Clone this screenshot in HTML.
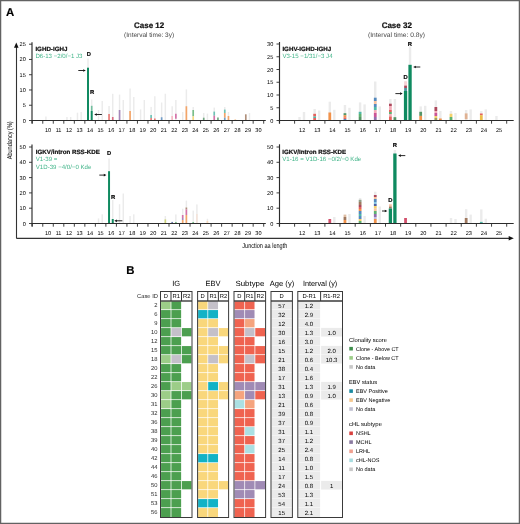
<!DOCTYPE html><html><head><meta charset="utf-8"><style>html,body{margin:0;padding:0;background:#fff;}svg{display:block;will-change:transform;}text{font-family:"Liberation Sans",sans-serif;text-rendering:geometricPrecision;}</style></head><body>
<svg width="520" height="524" viewBox="0 0 520 524">
<rect x="0.00" y="0.00" width="520.00" height="524.00" fill="#fff" />
<text x="5.90" y="15.80" font-size="11.4" font-weight="bold" stroke="#000" stroke-width="0.15" fill="#000">A</text>
<text x="149.10" y="28.10" font-size="8" font-weight="bold" stroke="#111" stroke-width="0.22" text-anchor="middle" fill="#111">Case 12</text>
<text x="149.10" y="36.60" font-size="6.5" text-anchor="middle" fill="#444" textLength="50" lengthAdjust="spacingAndGlyphs">(Interval time: 3y)</text>
<text x="396.75" y="28.10" font-size="8" font-weight="bold" stroke="#111" stroke-width="0.22" text-anchor="middle" fill="#111">Case 32</text>
<text x="396.50" y="36.70" font-size="6.5" text-anchor="middle" fill="#444" textLength="57" lengthAdjust="spacingAndGlyphs">(Interval time: 0.8y)</text>
<rect x="45.20" y="116.50" width="1.44" height="4.00" fill="#ebebeb" />
<rect x="66.24" y="117.00" width="1.44" height="3.50" fill="#ebebeb" />
<rect x="69.94" y="117.00" width="1.44" height="3.50" fill="#ebebeb" />
<rect x="76.76" y="112.70" width="1.44" height="7.80" fill="#ebebeb" />
<rect x="80.46" y="112.00" width="1.44" height="8.50" fill="#ebebeb" />
<rect x="87.28" y="58.50" width="1.44" height="62.00" fill="#ebebeb" />
<rect x="87.01" y="67.70" width="1.98" height="52.90" fill="#0f8a60" />
<rect x="90.98" y="99.50" width="1.44" height="21.00" fill="#ebebeb" />
<rect x="90.87" y="105.80" width="1.66" height="5.20" fill="#72be9e" />
<rect x="90.71" y="111.00" width="1.98" height="9.60" fill="#0f8a60" />
<rect x="97.80" y="110.00" width="1.44" height="10.50" fill="#ebebeb" />
<rect x="101.50" y="101.00" width="1.44" height="19.50" fill="#ebebeb" />
<rect x="108.32" y="106.00" width="1.44" height="14.50" fill="#ebebeb" />
<rect x="108.21" y="114.00" width="1.66" height="6.60" fill="#ea7d79" />
<rect x="112.02" y="93.80" width="1.44" height="26.70" fill="#ebebeb" />
<rect x="111.91" y="117.00" width="1.66" height="3.60" fill="#da6d84" />
<rect x="118.84" y="94.60" width="1.44" height="25.90" fill="#ebebeb" />
<rect x="118.73" y="110.00" width="1.66" height="10.60" fill="#a587ba" />
<rect x="122.54" y="100.00" width="1.44" height="20.50" fill="#ebebeb" />
<rect x="129.36" y="88.50" width="1.44" height="32.00" fill="#ebebeb" />
<rect x="129.25" y="111.00" width="1.66" height="9.60" fill="#f3a569" />
<rect x="133.06" y="97.00" width="1.44" height="23.50" fill="#ebebeb" />
<rect x="139.88" y="109.40" width="1.44" height="11.10" fill="#ebebeb" />
<rect x="143.58" y="100.00" width="1.44" height="20.50" fill="#ebebeb" />
<rect x="150.40" y="106.90" width="1.44" height="13.60" fill="#ebebeb" />
<rect x="150.29" y="115.00" width="1.66" height="3.00" fill="#6dc4b6" />
<rect x="150.29" y="118.00" width="1.66" height="2.60" fill="#ea7d79" />
<rect x="154.10" y="96.25" width="1.44" height="24.25" fill="#ebebeb" />
<rect x="153.99" y="118.50" width="1.66" height="2.10" fill="#ea7d79" />
<rect x="160.92" y="102.50" width="1.44" height="18.00" fill="#ebebeb" />
<rect x="160.81" y="117.25" width="1.66" height="3.35" fill="#719dc8" />
<rect x="164.62" y="93.75" width="1.44" height="26.75" fill="#ebebeb" />
<rect x="171.44" y="106.25" width="1.44" height="14.25" fill="#ebebeb" />
<rect x="171.33" y="116.00" width="1.66" height="4.60" fill="#f6bac4" />
<rect x="175.14" y="100.00" width="1.44" height="20.50" fill="#ebebeb" />
<rect x="175.03" y="113.75" width="1.66" height="5.00" fill="#d472a9" />
<rect x="181.96" y="112.00" width="1.44" height="8.50" fill="#ebebeb" />
<rect x="185.66" y="89.40" width="1.44" height="31.10" fill="#ebebeb" />
<rect x="185.55" y="106.25" width="1.66" height="14.35" fill="#f3a569" />
<rect x="192.48" y="107.00" width="1.44" height="13.50" fill="#ebebeb" />
<rect x="192.37" y="110.00" width="1.66" height="6.25" fill="#79be88" />
<rect x="192.37" y="116.25" width="1.66" height="4.35" fill="#f6da84" />
<rect x="203.00" y="113.00" width="1.44" height="7.50" fill="#ebebeb" />
<rect x="202.89" y="117.70" width="1.66" height="2.90" fill="#72a781" />
<rect x="206.70" y="113.60" width="1.44" height="6.90" fill="#ebebeb" />
<rect x="213.52" y="107.60" width="1.44" height="12.90" fill="#ebebeb" />
<rect x="213.41" y="111.60" width="1.66" height="4.10" fill="#6dc4b6" />
<rect x="213.41" y="115.70" width="1.66" height="4.90" fill="#d472a9" />
<rect x="217.11" y="117.50" width="1.66" height="3.10" fill="#72a781" />
<rect x="224.04" y="107.00" width="1.44" height="13.50" fill="#ebebeb" />
<rect x="223.93" y="109.60" width="1.66" height="3.40" fill="#6dc4b6" />
<rect x="223.93" y="113.00" width="1.66" height="4.70" fill="#f3a569" />
<rect x="223.93" y="117.70" width="1.66" height="2.90" fill="#719dc8" />
<rect x="227.74" y="112.00" width="1.44" height="8.50" fill="#ebebeb" />
<rect x="227.63" y="116.00" width="1.66" height="4.60" fill="#f3a569" />
<rect x="234.45" y="119.00" width="1.66" height="1.60" fill="#fadaba" />
<rect x="244.97" y="114.30" width="1.66" height="6.30" fill="#af8f7a" />
<rect x="248.78" y="113.00" width="1.44" height="7.50" fill="#ebebeb" />
<line x1="32.00" y1="42.30" x2="32.00" y2="123.50" stroke="#2b2b2b" stroke-width="1.15"/>
<line x1="29.00" y1="120.50" x2="32.00" y2="120.50" stroke="#2b2b2b" stroke-width="0.9"/>
<text x="25.80" y="122.50" font-size="5.6" text-anchor="end">0</text>
<line x1="29.00" y1="105.24" x2="32.00" y2="105.24" stroke="#2b2b2b" stroke-width="0.9"/>
<text x="25.80" y="107.24" font-size="5.6" text-anchor="end">5</text>
<line x1="29.00" y1="89.98" x2="32.00" y2="89.98" stroke="#2b2b2b" stroke-width="0.9"/>
<text x="25.80" y="91.98" font-size="5.6" text-anchor="end">10</text>
<line x1="29.00" y1="74.72" x2="32.00" y2="74.72" stroke="#2b2b2b" stroke-width="0.9"/>
<text x="25.80" y="76.72" font-size="5.6" text-anchor="end">15</text>
<line x1="29.00" y1="59.46" x2="32.00" y2="59.46" stroke="#2b2b2b" stroke-width="0.9"/>
<text x="25.80" y="61.46" font-size="5.6" text-anchor="end">20</text>
<line x1="29.00" y1="44.20" x2="32.00" y2="44.20" stroke="#2b2b2b" stroke-width="0.9"/>
<text x="25.80" y="46.20" font-size="5.6" text-anchor="end">25</text>
<line x1="32.00" y1="120.50" x2="265.80" y2="120.50" stroke="#2b2b2b" stroke-width="1"/>
<line x1="32.25" y1="120.50" x2="32.25" y2="123.70" stroke="#2b2b2b" stroke-width="0.9"/>
<line x1="42.77" y1="120.50" x2="42.77" y2="123.70" stroke="#2b2b2b" stroke-width="0.9"/>
<line x1="53.29" y1="120.50" x2="53.29" y2="123.70" stroke="#2b2b2b" stroke-width="0.9"/>
<line x1="63.81" y1="120.50" x2="63.81" y2="123.70" stroke="#2b2b2b" stroke-width="0.9"/>
<line x1="74.33" y1="120.50" x2="74.33" y2="123.70" stroke="#2b2b2b" stroke-width="0.9"/>
<line x1="84.85" y1="120.50" x2="84.85" y2="123.70" stroke="#2b2b2b" stroke-width="0.9"/>
<line x1="95.37" y1="120.50" x2="95.37" y2="123.70" stroke="#2b2b2b" stroke-width="0.9"/>
<line x1="105.89" y1="120.50" x2="105.89" y2="123.70" stroke="#2b2b2b" stroke-width="0.9"/>
<line x1="116.41" y1="120.50" x2="116.41" y2="123.70" stroke="#2b2b2b" stroke-width="0.9"/>
<line x1="126.93" y1="120.50" x2="126.93" y2="123.70" stroke="#2b2b2b" stroke-width="0.9"/>
<line x1="137.45" y1="120.50" x2="137.45" y2="123.70" stroke="#2b2b2b" stroke-width="0.9"/>
<line x1="147.97" y1="120.50" x2="147.97" y2="123.70" stroke="#2b2b2b" stroke-width="0.9"/>
<line x1="158.49" y1="120.50" x2="158.49" y2="123.70" stroke="#2b2b2b" stroke-width="0.9"/>
<line x1="169.01" y1="120.50" x2="169.01" y2="123.70" stroke="#2b2b2b" stroke-width="0.9"/>
<line x1="179.53" y1="120.50" x2="179.53" y2="123.70" stroke="#2b2b2b" stroke-width="0.9"/>
<line x1="190.05" y1="120.50" x2="190.05" y2="123.70" stroke="#2b2b2b" stroke-width="0.9"/>
<line x1="200.57" y1="120.50" x2="200.57" y2="123.70" stroke="#2b2b2b" stroke-width="0.9"/>
<line x1="211.09" y1="120.50" x2="211.09" y2="123.70" stroke="#2b2b2b" stroke-width="0.9"/>
<line x1="221.61" y1="120.50" x2="221.61" y2="123.70" stroke="#2b2b2b" stroke-width="0.9"/>
<line x1="232.13" y1="120.50" x2="232.13" y2="123.70" stroke="#2b2b2b" stroke-width="0.9"/>
<line x1="242.65" y1="120.50" x2="242.65" y2="123.70" stroke="#2b2b2b" stroke-width="0.9"/>
<line x1="253.17" y1="120.50" x2="253.17" y2="123.70" stroke="#2b2b2b" stroke-width="0.9"/>
<line x1="263.69" y1="120.50" x2="263.69" y2="123.70" stroke="#2b2b2b" stroke-width="0.9"/>
<text x="48.03" y="131.80" font-size="5.6" text-anchor="middle">10</text>
<text x="58.55" y="131.80" font-size="5.6" text-anchor="middle">11</text>
<text x="69.07" y="131.80" font-size="5.6" text-anchor="middle">12</text>
<text x="79.59" y="131.80" font-size="5.6" text-anchor="middle">13</text>
<text x="90.11" y="131.80" font-size="5.6" text-anchor="middle">14</text>
<text x="100.63" y="131.80" font-size="5.6" text-anchor="middle">15</text>
<text x="111.15" y="131.80" font-size="5.6" text-anchor="middle">16</text>
<text x="121.67" y="131.80" font-size="5.6" text-anchor="middle">17</text>
<text x="132.19" y="131.80" font-size="5.6" text-anchor="middle">18</text>
<text x="142.71" y="131.80" font-size="5.6" text-anchor="middle">19</text>
<text x="153.23" y="131.80" font-size="5.6" text-anchor="middle">20</text>
<text x="163.75" y="131.80" font-size="5.6" text-anchor="middle">21</text>
<text x="174.27" y="131.80" font-size="5.6" text-anchor="middle">22</text>
<text x="184.79" y="131.80" font-size="5.6" text-anchor="middle">23</text>
<text x="195.31" y="131.80" font-size="5.6" text-anchor="middle">24</text>
<text x="205.83" y="131.80" font-size="5.6" text-anchor="middle">25</text>
<text x="216.35" y="131.80" font-size="5.6" text-anchor="middle">26</text>
<text x="226.87" y="131.80" font-size="5.6" text-anchor="middle">27</text>
<text x="237.39" y="131.80" font-size="5.6" text-anchor="middle">28</text>
<text x="247.91" y="131.80" font-size="5.6" text-anchor="middle">29</text>
<text x="258.43" y="131.80" font-size="5.6" text-anchor="middle">30</text>
<rect x="298.30" y="117.00" width="2.40" height="3.50" fill="#ebebeb" />
<rect x="302.80" y="112.00" width="2.40" height="8.50" fill="#ebebeb" />
<rect x="313.45" y="109.00" width="2.40" height="11.50" fill="#ebebeb" />
<rect x="313.27" y="113.80" width="2.76" height="2.70" fill="#e6625d" />
<rect x="313.27" y="116.50" width="2.76" height="1.50" fill="#4fb8a7" />
<rect x="313.27" y="118.00" width="2.76" height="2.60" fill="#e6625d" />
<rect x="317.95" y="110.50" width="2.40" height="10.00" fill="#ebebeb" />
<rect x="328.60" y="101.70" width="2.40" height="18.80" fill="#ebebeb" />
<rect x="328.42" y="112.50" width="2.76" height="8.10" fill="#f1924a" />
<rect x="333.10" y="109.80" width="2.40" height="10.70" fill="#ebebeb" />
<rect x="343.75" y="105.00" width="2.40" height="15.50" fill="#ebebeb" />
<rect x="343.57" y="113.20" width="2.76" height="2.00" fill="#549466" />
<rect x="343.57" y="115.20" width="2.76" height="2.30" fill="#f1924a" />
<rect x="343.57" y="117.50" width="2.76" height="1.50" fill="#e6625d" />
<rect x="343.57" y="119.00" width="2.76" height="1.60" fill="#5489bd" />
<rect x="348.25" y="107.80" width="2.40" height="12.70" fill="#ebebeb" />
<rect x="358.90" y="102.40" width="2.40" height="18.10" fill="#ebebeb" />
<rect x="358.72" y="111.80" width="2.76" height="2.20" fill="#4fb8a7" />
<rect x="358.72" y="114.00" width="2.76" height="3.00" fill="#5db170" />
<rect x="358.72" y="117.00" width="2.76" height="3.60" fill="#549466" />
<rect x="363.40" y="104.40" width="2.40" height="16.10" fill="#ebebeb" />
<rect x="374.05" y="81.50" width="2.40" height="39.00" fill="#ebebeb" />
<rect x="373.87" y="97.70" width="2.76" height="3.30" fill="#5489bd" />
<rect x="373.87" y="101.00" width="2.76" height="3.00" fill="#f8c29f" />
<rect x="373.87" y="104.00" width="2.76" height="3.00" fill="#5489bd" />
<rect x="373.87" y="107.00" width="2.76" height="3.00" fill="#4fb8a7" />
<rect x="373.87" y="110.00" width="2.76" height="3.00" fill="#f4acb8" />
<rect x="373.87" y="113.00" width="2.76" height="4.00" fill="#cb5597" />
<rect x="373.87" y="117.00" width="2.76" height="3.60" fill="#926eac" />
<rect x="378.55" y="106.40" width="2.40" height="14.10" fill="#ebebeb" />
<rect x="389.20" y="99.00" width="2.40" height="21.50" fill="#ebebeb" />
<rect x="389.02" y="103.70" width="2.76" height="2.30" fill="#ac485c" />
<rect x="389.02" y="106.00" width="2.76" height="4.00" fill="#f4acb8" />
<rect x="389.02" y="110.00" width="2.76" height="2.00" fill="#e6625d" />
<rect x="389.02" y="112.00" width="2.76" height="2.00" fill="#5db170" />
<rect x="389.02" y="114.00" width="2.76" height="2.50" fill="#f4acb8" />
<rect x="389.02" y="116.50" width="2.76" height="4.10" fill="#e6625d" />
<rect x="393.70" y="99.00" width="2.40" height="21.50" fill="#ebebeb" />
<rect x="393.52" y="117.20" width="2.76" height="3.40" fill="#549466" />
<rect x="404.35" y="81.00" width="2.40" height="39.50" fill="#ebebeb" />
<rect x="404.17" y="81.50" width="2.76" height="4.10" fill="#f8d2d5" />
<rect x="404.17" y="85.60" width="2.76" height="2.40" fill="#ac485c" />
<rect x="404.17" y="88.00" width="2.76" height="3.00" fill="#50969f" />
<rect x="403.90" y="91.00" width="3.30" height="29.60" fill="#0f8a60" />
<rect x="408.85" y="46.50" width="2.40" height="74.00" fill="#ebebeb" />
<rect x="408.40" y="64.80" width="3.30" height="55.80" fill="#0f8a60" />
<rect x="419.50" y="106.40" width="2.40" height="14.10" fill="#ebebeb" />
<rect x="419.32" y="111.80" width="2.76" height="4.10" fill="#549466" />
<rect x="419.32" y="115.90" width="2.76" height="4.70" fill="#f1924a" />
<rect x="424.00" y="105.80" width="2.40" height="14.70" fill="#ebebeb" />
<rect x="434.65" y="100.40" width="2.40" height="20.10" fill="#ebebeb" />
<rect x="434.47" y="107.00" width="2.76" height="4.00" fill="#ac485c" />
<rect x="434.47" y="111.00" width="2.76" height="2.00" fill="#f4acb8" />
<rect x="434.47" y="113.00" width="2.76" height="3.00" fill="#cb5597" />
<rect x="434.47" y="116.00" width="2.76" height="2.00" fill="#f4d26b" />
<rect x="434.47" y="118.00" width="2.76" height="2.60" fill="#9f9f62" />
<rect x="439.15" y="111.00" width="2.40" height="9.50" fill="#ebebeb" />
<rect x="438.97" y="118.50" width="2.76" height="2.10" fill="#f1924a" />
<rect x="449.80" y="111.00" width="2.40" height="9.50" fill="#ebebeb" />
<rect x="449.62" y="113.80" width="2.76" height="3.20" fill="#f4d26b" />
<rect x="449.62" y="117.00" width="2.76" height="3.60" fill="#5db170" />
<rect x="454.30" y="113.00" width="2.40" height="7.50" fill="#ebebeb" />
<rect x="464.95" y="110.00" width="2.40" height="10.50" fill="#ebebeb" />
<rect x="464.77" y="113.40" width="2.76" height="5.80" fill="#dfb192" />
<rect x="469.45" y="109.40" width="2.40" height="11.10" fill="#ebebeb" />
<rect x="480.10" y="111.00" width="2.40" height="9.50" fill="#ebebeb" />
<rect x="479.92" y="113.50" width="2.76" height="1.70" fill="#e6625d" />
<rect x="479.92" y="115.20" width="2.76" height="5.40" fill="#ecbe48" />
<rect x="484.60" y="109.40" width="2.40" height="11.10" fill="#ebebeb" />
<rect x="495.25" y="116.00" width="2.40" height="4.50" fill="#ebebeb" />
<line x1="279.50" y1="42.00" x2="279.50" y2="123.50" stroke="#2b2b2b" stroke-width="1.15"/>
<line x1="276.50" y1="120.50" x2="279.50" y2="120.50" stroke="#2b2b2b" stroke-width="0.9"/>
<text x="273.30" y="122.50" font-size="5.6" text-anchor="end">0</text>
<line x1="276.50" y1="107.75" x2="279.50" y2="107.75" stroke="#2b2b2b" stroke-width="0.9"/>
<text x="273.30" y="109.75" font-size="5.6" text-anchor="end">5</text>
<line x1="276.50" y1="95.00" x2="279.50" y2="95.00" stroke="#2b2b2b" stroke-width="0.9"/>
<text x="273.30" y="97.00" font-size="5.6" text-anchor="end">10</text>
<line x1="276.50" y1="82.25" x2="279.50" y2="82.25" stroke="#2b2b2b" stroke-width="0.9"/>
<text x="273.30" y="84.25" font-size="5.6" text-anchor="end">15</text>
<line x1="276.50" y1="69.50" x2="279.50" y2="69.50" stroke="#2b2b2b" stroke-width="0.9"/>
<text x="273.30" y="71.50" font-size="5.6" text-anchor="end">20</text>
<line x1="276.50" y1="56.75" x2="279.50" y2="56.75" stroke="#2b2b2b" stroke-width="0.9"/>
<text x="273.30" y="58.75" font-size="5.6" text-anchor="end">25</text>
<line x1="276.50" y1="44.00" x2="279.50" y2="44.00" stroke="#2b2b2b" stroke-width="0.9"/>
<text x="273.30" y="46.00" font-size="5.6" text-anchor="end">30</text>
<line x1="279.50" y1="120.50" x2="513.70" y2="120.50" stroke="#2b2b2b" stroke-width="1"/>
<line x1="279.45" y1="120.50" x2="279.45" y2="123.70" stroke="#2b2b2b" stroke-width="0.9"/>
<line x1="294.60" y1="120.50" x2="294.60" y2="123.70" stroke="#2b2b2b" stroke-width="0.9"/>
<line x1="309.75" y1="120.50" x2="309.75" y2="123.70" stroke="#2b2b2b" stroke-width="0.9"/>
<line x1="324.90" y1="120.50" x2="324.90" y2="123.70" stroke="#2b2b2b" stroke-width="0.9"/>
<line x1="340.05" y1="120.50" x2="340.05" y2="123.70" stroke="#2b2b2b" stroke-width="0.9"/>
<line x1="355.20" y1="120.50" x2="355.20" y2="123.70" stroke="#2b2b2b" stroke-width="0.9"/>
<line x1="370.35" y1="120.50" x2="370.35" y2="123.70" stroke="#2b2b2b" stroke-width="0.9"/>
<line x1="385.50" y1="120.50" x2="385.50" y2="123.70" stroke="#2b2b2b" stroke-width="0.9"/>
<line x1="400.65" y1="120.50" x2="400.65" y2="123.70" stroke="#2b2b2b" stroke-width="0.9"/>
<line x1="415.80" y1="120.50" x2="415.80" y2="123.70" stroke="#2b2b2b" stroke-width="0.9"/>
<line x1="430.95" y1="120.50" x2="430.95" y2="123.70" stroke="#2b2b2b" stroke-width="0.9"/>
<line x1="446.10" y1="120.50" x2="446.10" y2="123.70" stroke="#2b2b2b" stroke-width="0.9"/>
<line x1="461.25" y1="120.50" x2="461.25" y2="123.70" stroke="#2b2b2b" stroke-width="0.9"/>
<line x1="476.40" y1="120.50" x2="476.40" y2="123.70" stroke="#2b2b2b" stroke-width="0.9"/>
<line x1="491.55" y1="120.50" x2="491.55" y2="123.70" stroke="#2b2b2b" stroke-width="0.9"/>
<line x1="506.70" y1="120.50" x2="506.70" y2="123.70" stroke="#2b2b2b" stroke-width="0.9"/>
<text x="302.18" y="131.80" font-size="5.6" text-anchor="middle">12</text>
<text x="317.32" y="131.80" font-size="5.6" text-anchor="middle">13</text>
<text x="332.47" y="131.80" font-size="5.6" text-anchor="middle">14</text>
<text x="347.62" y="131.80" font-size="5.6" text-anchor="middle">15</text>
<text x="362.77" y="131.80" font-size="5.6" text-anchor="middle">16</text>
<text x="377.93" y="131.80" font-size="5.6" text-anchor="middle">17</text>
<text x="393.07" y="131.80" font-size="5.6" text-anchor="middle">18</text>
<text x="408.23" y="131.80" font-size="5.6" text-anchor="middle">19</text>
<text x="423.38" y="131.80" font-size="5.6" text-anchor="middle">20</text>
<text x="438.52" y="131.80" font-size="5.6" text-anchor="middle">21</text>
<text x="453.67" y="131.80" font-size="5.6" text-anchor="middle">22</text>
<text x="468.82" y="131.80" font-size="5.6" text-anchor="middle">23</text>
<text x="483.98" y="131.80" font-size="5.6" text-anchor="middle">24</text>
<text x="499.12" y="131.80" font-size="5.6" text-anchor="middle">25</text>
<rect x="97.80" y="218.40" width="1.44" height="5.10" fill="#ebebeb" />
<rect x="101.50" y="214.30" width="1.44" height="9.20" fill="#ebebeb" />
<rect x="108.32" y="158.50" width="1.44" height="65.00" fill="#ebebeb" />
<rect x="108.05" y="171.20" width="1.98" height="52.40" fill="#0f8a60" />
<rect x="112.02" y="200.00" width="1.44" height="23.50" fill="#ebebeb" />
<rect x="111.75" y="219.00" width="1.98" height="4.60" fill="#0f8a60" />
<rect x="118.84" y="204.20" width="1.44" height="19.30" fill="#ebebeb" />
<rect x="122.54" y="193.50" width="1.44" height="30.00" fill="#ebebeb" />
<rect x="129.36" y="216.00" width="1.44" height="7.50" fill="#ebebeb" />
<rect x="133.06" y="214.30" width="1.44" height="9.20" fill="#ebebeb" />
<rect x="164.62" y="216.00" width="1.44" height="7.50" fill="#ebebeb" />
<rect x="164.51" y="219.40" width="1.66" height="4.20" fill="#cfd47d" />
<rect x="171.33" y="221.90" width="1.66" height="1.70" fill="#6e7caf" />
<rect x="175.14" y="214.40" width="1.44" height="9.10" fill="#ebebeb" />
<rect x="175.03" y="222.00" width="1.66" height="1.60" fill="#79be88" />
<rect x="181.96" y="208.75" width="1.44" height="14.75" fill="#ebebeb" />
<rect x="181.85" y="215.00" width="1.66" height="3.00" fill="#d472a9" />
<rect x="181.85" y="218.00" width="1.66" height="2.00" fill="#a587ba" />
<rect x="181.85" y="220.00" width="1.66" height="3.60" fill="#f3a569" />
<rect x="185.66" y="200.60" width="1.44" height="22.90" fill="#ebebeb" />
<rect x="185.55" y="207.50" width="1.66" height="2.00" fill="#af8f7a" />
<rect x="185.55" y="209.50" width="1.66" height="5.50" fill="#d472a9" />
<rect x="185.55" y="215.00" width="1.66" height="8.60" fill="#f3a569" />
<rect x="192.48" y="210.60" width="1.44" height="12.90" fill="#ebebeb" />
<rect x="192.37" y="222.00" width="1.66" height="1.60" fill="#79be88" />
<rect x="196.18" y="204.40" width="1.44" height="19.10" fill="#ebebeb" />
<rect x="196.07" y="214.00" width="1.66" height="9.60" fill="#f5e4da" />
<rect x="206.70" y="218.75" width="1.44" height="4.75" fill="#ebebeb" />
<rect x="206.59" y="221.00" width="1.66" height="2.60" fill="#fadaba" />
<line x1="32.00" y1="144.50" x2="32.00" y2="226.50" stroke="#2b2b2b" stroke-width="1.15"/>
<line x1="29.00" y1="223.50" x2="32.00" y2="223.50" stroke="#2b2b2b" stroke-width="0.9"/>
<text x="25.80" y="225.50" font-size="5.6" text-anchor="end">0</text>
<line x1="29.00" y1="208.20" x2="32.00" y2="208.20" stroke="#2b2b2b" stroke-width="0.9"/>
<text x="25.80" y="210.20" font-size="5.6" text-anchor="end">10</text>
<line x1="29.00" y1="192.90" x2="32.00" y2="192.90" stroke="#2b2b2b" stroke-width="0.9"/>
<text x="25.80" y="194.90" font-size="5.6" text-anchor="end">20</text>
<line x1="29.00" y1="177.60" x2="32.00" y2="177.60" stroke="#2b2b2b" stroke-width="0.9"/>
<text x="25.80" y="179.60" font-size="5.6" text-anchor="end">30</text>
<line x1="29.00" y1="162.30" x2="32.00" y2="162.30" stroke="#2b2b2b" stroke-width="0.9"/>
<text x="25.80" y="164.30" font-size="5.6" text-anchor="end">40</text>
<line x1="29.00" y1="147.00" x2="32.00" y2="147.00" stroke="#2b2b2b" stroke-width="0.9"/>
<text x="25.80" y="149.00" font-size="5.6" text-anchor="end">50</text>
<line x1="32.00" y1="223.50" x2="265.80" y2="223.50" stroke="#2b2b2b" stroke-width="1"/>
<line x1="32.25" y1="223.50" x2="32.25" y2="226.70" stroke="#2b2b2b" stroke-width="0.9"/>
<line x1="42.77" y1="223.50" x2="42.77" y2="226.70" stroke="#2b2b2b" stroke-width="0.9"/>
<line x1="53.29" y1="223.50" x2="53.29" y2="226.70" stroke="#2b2b2b" stroke-width="0.9"/>
<line x1="63.81" y1="223.50" x2="63.81" y2="226.70" stroke="#2b2b2b" stroke-width="0.9"/>
<line x1="74.33" y1="223.50" x2="74.33" y2="226.70" stroke="#2b2b2b" stroke-width="0.9"/>
<line x1="84.85" y1="223.50" x2="84.85" y2="226.70" stroke="#2b2b2b" stroke-width="0.9"/>
<line x1="95.37" y1="223.50" x2="95.37" y2="226.70" stroke="#2b2b2b" stroke-width="0.9"/>
<line x1="105.89" y1="223.50" x2="105.89" y2="226.70" stroke="#2b2b2b" stroke-width="0.9"/>
<line x1="116.41" y1="223.50" x2="116.41" y2="226.70" stroke="#2b2b2b" stroke-width="0.9"/>
<line x1="126.93" y1="223.50" x2="126.93" y2="226.70" stroke="#2b2b2b" stroke-width="0.9"/>
<line x1="137.45" y1="223.50" x2="137.45" y2="226.70" stroke="#2b2b2b" stroke-width="0.9"/>
<line x1="147.97" y1="223.50" x2="147.97" y2="226.70" stroke="#2b2b2b" stroke-width="0.9"/>
<line x1="158.49" y1="223.50" x2="158.49" y2="226.70" stroke="#2b2b2b" stroke-width="0.9"/>
<line x1="169.01" y1="223.50" x2="169.01" y2="226.70" stroke="#2b2b2b" stroke-width="0.9"/>
<line x1="179.53" y1="223.50" x2="179.53" y2="226.70" stroke="#2b2b2b" stroke-width="0.9"/>
<line x1="190.05" y1="223.50" x2="190.05" y2="226.70" stroke="#2b2b2b" stroke-width="0.9"/>
<line x1="200.57" y1="223.50" x2="200.57" y2="226.70" stroke="#2b2b2b" stroke-width="0.9"/>
<line x1="211.09" y1="223.50" x2="211.09" y2="226.70" stroke="#2b2b2b" stroke-width="0.9"/>
<line x1="221.61" y1="223.50" x2="221.61" y2="226.70" stroke="#2b2b2b" stroke-width="0.9"/>
<line x1="232.13" y1="223.50" x2="232.13" y2="226.70" stroke="#2b2b2b" stroke-width="0.9"/>
<line x1="242.65" y1="223.50" x2="242.65" y2="226.70" stroke="#2b2b2b" stroke-width="0.9"/>
<line x1="253.17" y1="223.50" x2="253.17" y2="226.70" stroke="#2b2b2b" stroke-width="0.9"/>
<line x1="263.69" y1="223.50" x2="263.69" y2="226.70" stroke="#2b2b2b" stroke-width="0.9"/>
<text x="48.03" y="234.80" font-size="5.6" text-anchor="middle">10</text>
<text x="58.55" y="234.80" font-size="5.6" text-anchor="middle">11</text>
<text x="69.07" y="234.80" font-size="5.6" text-anchor="middle">12</text>
<text x="79.59" y="234.80" font-size="5.6" text-anchor="middle">13</text>
<text x="90.11" y="234.80" font-size="5.6" text-anchor="middle">14</text>
<text x="100.63" y="234.80" font-size="5.6" text-anchor="middle">15</text>
<text x="111.15" y="234.80" font-size="5.6" text-anchor="middle">16</text>
<text x="121.67" y="234.80" font-size="5.6" text-anchor="middle">17</text>
<text x="132.19" y="234.80" font-size="5.6" text-anchor="middle">18</text>
<text x="142.71" y="234.80" font-size="5.6" text-anchor="middle">19</text>
<text x="153.23" y="234.80" font-size="5.6" text-anchor="middle">20</text>
<text x="163.75" y="234.80" font-size="5.6" text-anchor="middle">21</text>
<text x="174.27" y="234.80" font-size="5.6" text-anchor="middle">22</text>
<text x="184.79" y="234.80" font-size="5.6" text-anchor="middle">23</text>
<text x="195.31" y="234.80" font-size="5.6" text-anchor="middle">24</text>
<text x="205.83" y="234.80" font-size="5.6" text-anchor="middle">25</text>
<text x="216.35" y="234.80" font-size="5.6" text-anchor="middle">26</text>
<text x="226.87" y="234.80" font-size="5.6" text-anchor="middle">27</text>
<text x="237.39" y="234.80" font-size="5.6" text-anchor="middle">28</text>
<text x="247.91" y="234.80" font-size="5.6" text-anchor="middle">29</text>
<text x="258.43" y="234.80" font-size="5.6" text-anchor="middle">30</text>
<rect x="328.42" y="219.00" width="2.76" height="4.40" fill="#d24f6b" />
<rect x="333.10" y="217.00" width="2.40" height="6.50" fill="#ebebeb" />
<rect x="343.57" y="214.60" width="2.76" height="2.40" fill="#dfbea4" />
<rect x="343.57" y="217.00" width="2.76" height="3.00" fill="#9f785f" />
<rect x="343.57" y="220.00" width="2.76" height="3.40" fill="#f1924a" />
<rect x="348.25" y="214.00" width="2.40" height="9.50" fill="#ebebeb" />
<rect x="358.90" y="198.00" width="2.40" height="25.50" fill="#ebebeb" />
<rect x="358.72" y="199.80" width="2.76" height="2.20" fill="#929f8a" />
<rect x="358.72" y="202.00" width="2.76" height="3.00" fill="#9f785f" />
<rect x="358.72" y="205.00" width="2.76" height="2.00" fill="#ac485c" />
<rect x="358.72" y="207.00" width="2.76" height="2.00" fill="#e6625d" />
<rect x="358.72" y="209.00" width="2.76" height="2.00" fill="#f1924a" />
<rect x="358.72" y="211.00" width="2.76" height="3.00" fill="#5489bd" />
<rect x="358.72" y="214.00" width="2.76" height="2.00" fill="#4fb8a7" />
<rect x="358.72" y="216.00" width="2.76" height="3.00" fill="#5489bd" />
<rect x="358.72" y="219.00" width="2.76" height="2.00" fill="#f4d26b" />
<rect x="358.72" y="221.00" width="2.76" height="2.40" fill="#5db170" />
<rect x="363.40" y="216.00" width="2.40" height="7.50" fill="#ebebeb" />
<rect x="374.05" y="191.70" width="2.40" height="31.80" fill="#ebebeb" />
<rect x="373.87" y="195.00" width="2.76" height="2.00" fill="#ac485c" />
<rect x="373.87" y="197.00" width="2.76" height="2.00" fill="#f8c29f" />
<rect x="373.87" y="199.00" width="2.76" height="3.00" fill="#5489bd" />
<rect x="373.87" y="202.00" width="2.76" height="2.00" fill="#85c5e6" />
<rect x="373.87" y="204.00" width="2.76" height="2.00" fill="#50629f" />
<rect x="373.87" y="206.00" width="2.76" height="2.50" fill="#f4d26b" />
<rect x="373.87" y="208.50" width="2.76" height="2.50" fill="#f8c29f" />
<rect x="373.87" y="211.00" width="2.76" height="3.00" fill="#5db170" />
<rect x="373.87" y="214.00" width="2.76" height="3.00" fill="#926eac" />
<rect x="373.87" y="217.00" width="2.76" height="2.00" fill="#c5b8df" />
<rect x="373.87" y="219.00" width="2.76" height="4.40" fill="#f1924a" />
<rect x="378.55" y="206.50" width="2.40" height="17.00" fill="#ebebeb" />
<rect x="389.02" y="204.30" width="2.76" height="2.20" fill="#f8c29f" />
<rect x="389.02" y="206.50" width="2.76" height="2.00" fill="#9f785f" />
<rect x="388.75" y="208.50" width="3.30" height="14.90" fill="#0f8a60" />
<rect x="393.70" y="150.00" width="2.40" height="73.50" fill="#ebebeb" />
<rect x="393.25" y="153.50" width="3.30" height="69.90" fill="#0f8a60" />
<rect x="404.17" y="218.00" width="2.76" height="5.40" fill="#d24f6b" />
<rect x="449.80" y="218.00" width="2.40" height="5.50" fill="#ebebeb" />
<rect x="454.30" y="219.00" width="2.40" height="4.50" fill="#ebebeb" />
<rect x="464.95" y="209.20" width="2.40" height="14.30" fill="#ebebeb" />
<rect x="464.77" y="218.00" width="2.76" height="5.40" fill="#9f785f" />
<rect x="469.45" y="214.60" width="2.40" height="8.90" fill="#ebebeb" />
<rect x="480.10" y="209.40" width="2.40" height="14.10" fill="#ebebeb" />
<rect x="479.92" y="221.90" width="2.76" height="1.50" fill="#4fb8a7" />
<rect x="484.60" y="218.75" width="2.40" height="4.75" fill="#ebebeb" />
<line x1="279.50" y1="144.30" x2="279.50" y2="226.50" stroke="#2b2b2b" stroke-width="1.15"/>
<line x1="276.50" y1="223.50" x2="279.50" y2="223.50" stroke="#2b2b2b" stroke-width="0.9"/>
<text x="273.30" y="225.50" font-size="5.6" text-anchor="end">0</text>
<line x1="276.50" y1="208.20" x2="279.50" y2="208.20" stroke="#2b2b2b" stroke-width="0.9"/>
<text x="273.30" y="210.20" font-size="5.6" text-anchor="end">10</text>
<line x1="276.50" y1="192.90" x2="279.50" y2="192.90" stroke="#2b2b2b" stroke-width="0.9"/>
<text x="273.30" y="194.90" font-size="5.6" text-anchor="end">20</text>
<line x1="276.50" y1="177.60" x2="279.50" y2="177.60" stroke="#2b2b2b" stroke-width="0.9"/>
<text x="273.30" y="179.60" font-size="5.6" text-anchor="end">30</text>
<line x1="276.50" y1="162.30" x2="279.50" y2="162.30" stroke="#2b2b2b" stroke-width="0.9"/>
<text x="273.30" y="164.30" font-size="5.6" text-anchor="end">40</text>
<line x1="276.50" y1="147.00" x2="279.50" y2="147.00" stroke="#2b2b2b" stroke-width="0.9"/>
<text x="273.30" y="149.00" font-size="5.6" text-anchor="end">50</text>
<line x1="279.50" y1="223.50" x2="513.70" y2="223.50" stroke="#2b2b2b" stroke-width="1"/>
<line x1="279.45" y1="223.50" x2="279.45" y2="226.70" stroke="#2b2b2b" stroke-width="0.9"/>
<line x1="294.60" y1="223.50" x2="294.60" y2="226.70" stroke="#2b2b2b" stroke-width="0.9"/>
<line x1="309.75" y1="223.50" x2="309.75" y2="226.70" stroke="#2b2b2b" stroke-width="0.9"/>
<line x1="324.90" y1="223.50" x2="324.90" y2="226.70" stroke="#2b2b2b" stroke-width="0.9"/>
<line x1="340.05" y1="223.50" x2="340.05" y2="226.70" stroke="#2b2b2b" stroke-width="0.9"/>
<line x1="355.20" y1="223.50" x2="355.20" y2="226.70" stroke="#2b2b2b" stroke-width="0.9"/>
<line x1="370.35" y1="223.50" x2="370.35" y2="226.70" stroke="#2b2b2b" stroke-width="0.9"/>
<line x1="385.50" y1="223.50" x2="385.50" y2="226.70" stroke="#2b2b2b" stroke-width="0.9"/>
<line x1="400.65" y1="223.50" x2="400.65" y2="226.70" stroke="#2b2b2b" stroke-width="0.9"/>
<line x1="415.80" y1="223.50" x2="415.80" y2="226.70" stroke="#2b2b2b" stroke-width="0.9"/>
<line x1="430.95" y1="223.50" x2="430.95" y2="226.70" stroke="#2b2b2b" stroke-width="0.9"/>
<line x1="446.10" y1="223.50" x2="446.10" y2="226.70" stroke="#2b2b2b" stroke-width="0.9"/>
<line x1="461.25" y1="223.50" x2="461.25" y2="226.70" stroke="#2b2b2b" stroke-width="0.9"/>
<line x1="476.40" y1="223.50" x2="476.40" y2="226.70" stroke="#2b2b2b" stroke-width="0.9"/>
<line x1="491.55" y1="223.50" x2="491.55" y2="226.70" stroke="#2b2b2b" stroke-width="0.9"/>
<line x1="506.70" y1="223.50" x2="506.70" y2="226.70" stroke="#2b2b2b" stroke-width="0.9"/>
<text x="302.18" y="234.80" font-size="5.6" text-anchor="middle">12</text>
<text x="317.32" y="234.80" font-size="5.6" text-anchor="middle">13</text>
<text x="332.47" y="234.80" font-size="5.6" text-anchor="middle">14</text>
<text x="347.62" y="234.80" font-size="5.6" text-anchor="middle">15</text>
<text x="362.77" y="234.80" font-size="5.6" text-anchor="middle">16</text>
<text x="377.93" y="234.80" font-size="5.6" text-anchor="middle">17</text>
<text x="393.07" y="234.80" font-size="5.6" text-anchor="middle">18</text>
<text x="408.23" y="234.80" font-size="5.6" text-anchor="middle">19</text>
<text x="423.38" y="234.80" font-size="5.6" text-anchor="middle">20</text>
<text x="438.52" y="234.80" font-size="5.6" text-anchor="middle">21</text>
<text x="453.67" y="234.80" font-size="5.6" text-anchor="middle">22</text>
<text x="468.82" y="234.80" font-size="5.6" text-anchor="middle">23</text>
<text x="483.98" y="234.80" font-size="5.6" text-anchor="middle">24</text>
<text x="499.12" y="234.80" font-size="5.6" text-anchor="middle">25</text>
<text x="35.40" y="51.10" font-size="6.2" font-weight="bold" stroke="#111" stroke-width="0.22" fill="#111">IGHD-IGHJ</text>
<text x="35.40" y="57.60" font-size="6.1" fill="#40b488">D6-13 −2/0/−1 J3</text>
<text x="282.40" y="50.80" font-size="6.2" font-weight="bold" stroke="#111" stroke-width="0.22" fill="#111">IGHV-IGHD-IGHJ</text>
<text x="282.40" y="57.80" font-size="6.1" fill="#40b488">V3-15 −1/31/−3 J4</text>
<text x="35.80" y="154.40" font-size="6.2" font-weight="bold" stroke="#111" stroke-width="0.22" fill="#111" textLength="64" lengthAdjust="spacingAndGlyphs">IGKV/intron RSS-KDE</text>
<text x="35.80" y="161.30" font-size="6.1" fill="#40b488">V1-39 =</text>
<text x="35.80" y="168.90" font-size="6.1" fill="#40b488" textLength="55.5" lengthAdjust="spacingAndGlyphs">V1D-39 −4/0/−0 Kde</text>
<text x="282.20" y="153.90" font-size="6.2" font-weight="bold" stroke="#111" stroke-width="0.22" fill="#111">IGKV/Intron RSS-KDE</text>
<text x="282.20" y="160.70" font-size="6.1" fill="#40b488" textLength="79" lengthAdjust="spacingAndGlyphs">V1-16 = V1D-16 −0/2/−0 Kde</text>
<text x="88.80" y="55.90" font-size="5.8" font-weight="bold" stroke="#111" stroke-width="0.22" text-anchor="middle" fill="#111">D</text>
<text x="92.10" y="93.60" font-size="5.8" font-weight="bold" stroke="#111" stroke-width="0.22" text-anchor="middle" fill="#111">R</text>
<text x="409.90" y="45.50" font-size="5.8" font-weight="bold" stroke="#111" stroke-width="0.22" text-anchor="middle" fill="#111">R</text>
<text x="405.50" y="79.00" font-size="5.8" font-weight="bold" stroke="#111" stroke-width="0.22" text-anchor="middle" fill="#111">D</text>
<text x="109.10" y="154.90" font-size="5.8" font-weight="bold" stroke="#111" stroke-width="0.22" text-anchor="middle" fill="#111">D</text>
<text x="113.20" y="198.90" font-size="5.8" font-weight="bold" stroke="#111" stroke-width="0.22" text-anchor="middle" fill="#111">R</text>
<text x="394.80" y="146.90" font-size="5.8" font-weight="bold" stroke="#111" stroke-width="0.22" text-anchor="middle" fill="#111">R</text>
<text x="390.25" y="202.30" font-size="5.8" font-weight="bold" stroke="#111" stroke-width="0.22" text-anchor="middle" fill="#111">D</text>
<line x1="78.30" y1="70.50" x2="83.72" y2="70.50" stroke="#111" stroke-width="0.9"/>
<path d="M85.80,70.50 L83.20,69.15 L83.20,71.85 Z" fill="#111"/>
<line x1="101.90" y1="114.50" x2="96.28" y2="114.50" stroke="#111" stroke-width="0.9"/>
<path d="M94.20,114.50 L96.80,113.15 L96.80,115.85 Z" fill="#111"/>
<line x1="420.30" y1="67.00" x2="415.28" y2="67.00" stroke="#111" stroke-width="0.9"/>
<path d="M413.20,67.00 L415.80,65.65 L415.80,68.35 Z" fill="#111"/>
<line x1="395.40" y1="93.60" x2="400.62" y2="93.60" stroke="#111" stroke-width="0.9"/>
<path d="M402.70,93.60 L400.10,92.25 L400.10,94.95 Z" fill="#111"/>
<line x1="99.30" y1="175.10" x2="104.32" y2="175.10" stroke="#111" stroke-width="0.9"/>
<path d="M106.40,175.10 L103.80,173.75 L103.80,176.45 Z" fill="#111"/>
<line x1="122.40" y1="220.80" x2="116.38" y2="220.80" stroke="#111" stroke-width="0.9"/>
<path d="M114.30,220.80 L116.90,219.45 L116.90,222.15 Z" fill="#111"/>
<line x1="405.30" y1="155.60" x2="400.28" y2="155.60" stroke="#111" stroke-width="0.9"/>
<path d="M398.20,155.60 L400.80,154.25 L400.80,156.95 Z" fill="#111"/>
<line x1="382.00" y1="211.00" x2="385.32" y2="211.00" stroke="#111" stroke-width="0.9"/>
<path d="M387.40,211.00 L384.80,209.65 L384.80,212.35 Z" fill="#111"/>
<line x1="16.50" y1="46.50" x2="16.50" y2="238.50" stroke="#333" stroke-width="1.1"/>
<path d="M16.3,42.6 L14.0,47.8 L18.6,47.8 Z" fill="#111"/>
<line x1="16.50" y1="238.40" x2="510.50" y2="238.40" stroke="#333" stroke-width="1.1"/>
<path d="M513.8,238.3 L508.7,236.0 L508.7,240.6 Z" fill="#111"/>
<text x="12.30" y="140.30" font-size="7.0" text-anchor="middle" textLength="38" lengthAdjust="spacingAndGlyphs" transform="rotate(-90 12.3 140.3)">Abundancy (%)</text>
<text x="264.80" y="247.90" font-size="7.2" text-anchor="middle" textLength="45" lengthAdjust="spacingAndGlyphs">Junction aa length</text>
<text x="126.30" y="274.20" font-size="11.4" font-weight="bold" stroke="#000" stroke-width="0.15" fill="#000">B</text>
<text x="176.10" y="286.20" font-size="7.5" text-anchor="middle">IG</text>
<text x="213.00" y="286.20" font-size="7.5" text-anchor="middle">EBV</text>
<text x="249.90" y="286.20" font-size="7.5" text-anchor="middle" textLength="28.8" lengthAdjust="spacingAndGlyphs">Subtype</text>
<text x="282.00" y="286.20" font-size="7.5" text-anchor="middle" textLength="24.4" lengthAdjust="spacingAndGlyphs">Age (y)</text>
<text x="320.10" y="286.20" font-size="7.5" text-anchor="middle" textLength="34.3" lengthAdjust="spacingAndGlyphs">Interval (y)</text>
<text x="158.00" y="298.00" font-size="5.8" text-anchor="end" fill="#2a2a2a" textLength="21" lengthAdjust="spacingAndGlyphs">Case ID</text>
<rect x="161.05" y="301.30" width="9.57" height="8.02" fill="#9ccd88" />
<rect x="171.38" y="301.30" width="9.75" height="8.02" fill="#4c9f4f" />
<rect x="161.05" y="310.07" width="9.57" height="8.25" fill="#4c9f4f" />
<rect x="171.38" y="310.07" width="9.75" height="8.25" fill="#4c9f4f" />
<rect x="161.05" y="319.07" width="9.57" height="8.25" fill="#4c9f4f" />
<rect x="171.38" y="319.07" width="9.75" height="8.25" fill="#4c9f4f" />
<rect x="161.05" y="328.07" width="9.57" height="8.25" fill="#4c9f4f" />
<rect x="171.38" y="328.07" width="9.75" height="8.25" fill="#c4c0c9" />
<rect x="181.88" y="328.07" width="9.57" height="8.25" fill="#4c9f4f" />
<rect x="161.05" y="337.07" width="9.57" height="8.25" fill="#4c9f4f" />
<rect x="171.38" y="337.07" width="9.75" height="8.25" fill="#4c9f4f" />
<rect x="161.05" y="346.07" width="9.57" height="8.25" fill="#4c9f4f" />
<rect x="171.38" y="346.07" width="9.75" height="8.25" fill="#4c9f4f" />
<rect x="181.88" y="346.07" width="9.57" height="8.25" fill="#4c9f4f" />
<rect x="161.05" y="355.07" width="9.57" height="8.25" fill="#9ccd88" />
<rect x="171.38" y="355.07" width="9.75" height="8.25" fill="#c4c0c9" />
<rect x="181.88" y="355.07" width="9.57" height="8.25" fill="#4c9f4f" />
<rect x="161.05" y="364.07" width="9.57" height="8.25" fill="#4c9f4f" />
<rect x="171.38" y="364.07" width="9.75" height="8.25" fill="#4c9f4f" />
<rect x="161.05" y="373.07" width="9.57" height="8.25" fill="#4c9f4f" />
<rect x="171.38" y="373.07" width="9.75" height="8.25" fill="#4c9f4f" />
<rect x="161.05" y="382.07" width="9.57" height="8.25" fill="#4c9f4f" />
<rect x="171.38" y="382.07" width="9.75" height="8.25" fill="#9ccd88" />
<rect x="181.88" y="382.07" width="9.57" height="8.25" fill="#9ccd88" />
<rect x="161.05" y="391.07" width="9.57" height="8.25" fill="#9ccd88" />
<rect x="171.38" y="391.07" width="9.75" height="8.25" fill="#4c9f4f" />
<rect x="181.88" y="391.07" width="9.57" height="8.25" fill="#4c9f4f" />
<rect x="161.05" y="400.07" width="9.57" height="8.25" fill="#9ccd88" />
<rect x="171.38" y="400.07" width="9.75" height="8.25" fill="#4c9f4f" />
<rect x="161.05" y="409.07" width="9.57" height="8.25" fill="#4c9f4f" />
<rect x="171.38" y="409.07" width="9.75" height="8.25" fill="#4c9f4f" />
<rect x="161.05" y="418.07" width="9.57" height="8.25" fill="#4c9f4f" />
<rect x="171.38" y="418.07" width="9.75" height="8.25" fill="#4c9f4f" />
<rect x="161.05" y="427.07" width="9.57" height="8.25" fill="#4c9f4f" />
<rect x="171.38" y="427.07" width="9.75" height="8.25" fill="#4c9f4f" />
<rect x="161.05" y="436.07" width="9.57" height="8.25" fill="#4c9f4f" />
<rect x="171.38" y="436.07" width="9.75" height="8.25" fill="#4c9f4f" />
<rect x="161.05" y="445.07" width="9.57" height="8.25" fill="#4c9f4f" />
<rect x="171.38" y="445.07" width="9.75" height="8.25" fill="#4c9f4f" />
<rect x="161.05" y="454.07" width="9.57" height="8.25" fill="#4c9f4f" />
<rect x="171.38" y="454.07" width="9.75" height="8.25" fill="#4c9f4f" />
<rect x="161.05" y="463.07" width="9.57" height="8.25" fill="#4c9f4f" />
<rect x="171.38" y="463.07" width="9.75" height="8.25" fill="#4c9f4f" />
<rect x="161.05" y="472.07" width="9.57" height="8.25" fill="#4c9f4f" />
<rect x="171.38" y="472.07" width="9.75" height="8.25" fill="#4c9f4f" />
<rect x="161.05" y="481.07" width="9.57" height="8.25" fill="#4c9f4f" />
<rect x="171.38" y="481.07" width="9.75" height="8.25" fill="#4c9f4f" />
<rect x="181.88" y="481.07" width="9.57" height="8.25" fill="#4c9f4f" />
<rect x="161.05" y="490.07" width="9.57" height="8.25" fill="#4c9f4f" />
<rect x="171.38" y="490.07" width="9.75" height="8.25" fill="#4c9f4f" />
<rect x="161.05" y="499.07" width="9.57" height="8.25" fill="#4c9f4f" />
<rect x="171.38" y="499.07" width="9.75" height="8.25" fill="#4c9f4f" />
<rect x="161.05" y="508.07" width="9.57" height="8.93" fill="#4c9f4f" />
<rect x="171.38" y="508.07" width="9.75" height="8.93" fill="#4c9f4f" />
<rect x="198.15" y="301.30" width="9.28" height="8.02" fill="#f9d77c" />
<rect x="208.18" y="301.30" width="9.85" height="8.02" fill="#c4c0c9" />
<rect x="198.15" y="310.07" width="9.28" height="8.25" fill="#12b2c6" />
<rect x="208.18" y="310.07" width="9.85" height="8.25" fill="#12b2c6" />
<rect x="198.15" y="319.07" width="9.28" height="8.25" fill="#f9d77c" />
<rect x="208.18" y="319.07" width="9.85" height="8.25" fill="#f9d77c" />
<rect x="198.15" y="328.07" width="9.28" height="8.25" fill="#f9d77c" />
<rect x="208.18" y="328.07" width="9.85" height="8.25" fill="#c4c0c9" />
<rect x="218.78" y="328.07" width="9.27" height="8.25" fill="#f9d77c" />
<rect x="198.15" y="337.07" width="9.28" height="8.25" fill="#f9d77c" />
<rect x="208.18" y="337.07" width="9.85" height="8.25" fill="#f9d77c" />
<rect x="198.15" y="346.07" width="9.28" height="8.25" fill="#f9d77c" />
<rect x="208.18" y="346.07" width="9.85" height="8.25" fill="#f9d77c" />
<rect x="218.78" y="346.07" width="9.27" height="8.25" fill="#f9d77c" />
<rect x="198.15" y="355.07" width="9.28" height="8.25" fill="#f9d77c" />
<rect x="208.18" y="355.07" width="9.85" height="8.25" fill="#c4c0c9" />
<rect x="218.78" y="355.07" width="9.27" height="8.25" fill="#f9d77c" />
<rect x="198.15" y="364.07" width="9.28" height="8.25" fill="#f9d77c" />
<rect x="208.18" y="364.07" width="9.85" height="8.25" fill="#f9d77c" />
<rect x="198.15" y="373.07" width="9.28" height="8.25" fill="#f9d77c" />
<rect x="208.18" y="373.07" width="9.85" height="8.25" fill="#f9d77c" />
<rect x="198.15" y="382.07" width="9.28" height="8.25" fill="#f9d77c" />
<rect x="208.18" y="382.07" width="9.85" height="8.25" fill="#12b2c6" />
<rect x="218.78" y="382.07" width="9.27" height="8.25" fill="#f9d77c" />
<rect x="198.15" y="391.07" width="9.28" height="8.25" fill="#f9d77c" />
<rect x="208.18" y="391.07" width="9.85" height="8.25" fill="#f9d77c" />
<rect x="218.78" y="391.07" width="9.27" height="8.25" fill="#f9d77c" />
<rect x="198.15" y="400.07" width="9.28" height="8.25" fill="#f9d77c" />
<rect x="208.18" y="400.07" width="9.85" height="8.25" fill="#f9d77c" />
<rect x="198.15" y="409.07" width="9.28" height="8.25" fill="#f9d77c" />
<rect x="208.18" y="409.07" width="9.85" height="8.25" fill="#f9d77c" />
<rect x="198.15" y="418.07" width="9.28" height="8.25" fill="#f9d77c" />
<rect x="208.18" y="418.07" width="9.85" height="8.25" fill="#f9d77c" />
<rect x="198.15" y="427.07" width="9.28" height="8.25" fill="#f9d77c" />
<rect x="208.18" y="427.07" width="9.85" height="8.25" fill="#f9d77c" />
<rect x="198.15" y="436.07" width="9.28" height="8.25" fill="#f9d77c" />
<rect x="208.18" y="436.07" width="9.85" height="8.25" fill="#f9d77c" />
<rect x="198.15" y="445.07" width="9.28" height="8.25" fill="#f9d77c" />
<rect x="208.18" y="445.07" width="9.85" height="8.25" fill="#f9d77c" />
<rect x="198.15" y="454.07" width="9.28" height="8.25" fill="#12b2c6" />
<rect x="208.18" y="454.07" width="9.85" height="8.25" fill="#12b2c6" />
<rect x="198.15" y="463.07" width="9.28" height="8.25" fill="#f9d77c" />
<rect x="208.18" y="463.07" width="9.85" height="8.25" fill="#f9d77c" />
<rect x="198.15" y="472.07" width="9.28" height="8.25" fill="#f9d77c" />
<rect x="208.18" y="472.07" width="9.85" height="8.25" fill="#f9d77c" />
<rect x="198.15" y="481.07" width="9.28" height="8.25" fill="#f9d77c" />
<rect x="208.18" y="481.07" width="9.85" height="8.25" fill="#f9d77c" />
<rect x="218.78" y="481.07" width="9.27" height="8.25" fill="#f9d77c" />
<rect x="198.15" y="490.07" width="9.28" height="8.25" fill="#f9d77c" />
<rect x="208.18" y="490.07" width="9.85" height="8.25" fill="#f9d77c" />
<rect x="198.15" y="499.07" width="9.28" height="8.25" fill="#12b2c6" />
<rect x="208.18" y="499.07" width="9.85" height="8.25" fill="#12b2c6" />
<rect x="198.15" y="508.07" width="9.28" height="8.93" fill="#f9d77c" />
<rect x="208.18" y="508.07" width="9.85" height="8.93" fill="#f9d77c" />
<rect x="234.55" y="301.30" width="9.77" height="8.02" fill="#ef6350" />
<rect x="245.07" y="301.30" width="9.45" height="8.02" fill="#ef6350" />
<rect x="234.55" y="310.07" width="9.77" height="8.25" fill="#a08bb5" />
<rect x="245.07" y="310.07" width="9.45" height="8.25" fill="#a08bb5" />
<rect x="234.55" y="319.07" width="9.77" height="8.25" fill="#ef6350" />
<rect x="245.07" y="319.07" width="9.45" height="8.25" fill="#f5a47e" />
<rect x="234.55" y="328.07" width="9.77" height="8.25" fill="#ef6350" />
<rect x="245.07" y="328.07" width="9.45" height="8.25" fill="#c4c0c9" />
<rect x="255.28" y="328.07" width="9.78" height="8.25" fill="#ef6350" />
<rect x="234.55" y="337.07" width="9.77" height="8.25" fill="#ef6350" />
<rect x="245.07" y="337.07" width="9.45" height="8.25" fill="#ef6350" />
<rect x="234.55" y="346.07" width="9.77" height="8.25" fill="#ef6350" />
<rect x="245.07" y="346.07" width="9.45" height="8.25" fill="#ef6350" />
<rect x="255.28" y="346.07" width="9.78" height="8.25" fill="#ef6350" />
<rect x="234.55" y="355.07" width="9.77" height="8.25" fill="#ef6350" />
<rect x="245.07" y="355.07" width="9.45" height="8.25" fill="#c4c0c9" />
<rect x="255.28" y="355.07" width="9.78" height="8.25" fill="#ef6350" />
<rect x="234.55" y="364.07" width="9.77" height="8.25" fill="#ef6350" />
<rect x="245.07" y="364.07" width="9.45" height="8.25" fill="#ef6350" />
<rect x="234.55" y="373.07" width="9.77" height="8.25" fill="#ef6350" />
<rect x="245.07" y="373.07" width="9.45" height="8.25" fill="#ef6350" />
<rect x="234.55" y="382.07" width="9.77" height="8.25" fill="#a08bb5" />
<rect x="245.07" y="382.07" width="9.45" height="8.25" fill="#a08bb5" />
<rect x="255.28" y="382.07" width="9.78" height="8.25" fill="#a08bb5" />
<rect x="234.55" y="391.07" width="9.77" height="8.25" fill="#f5a47e" />
<rect x="245.07" y="391.07" width="9.45" height="8.25" fill="#a08bb5" />
<rect x="255.28" y="391.07" width="9.78" height="8.25" fill="#ef6350" />
<rect x="234.55" y="400.07" width="9.77" height="8.25" fill="#abe0e3" />
<rect x="245.07" y="400.07" width="9.45" height="8.25" fill="#f5a47e" />
<rect x="234.55" y="409.07" width="9.77" height="8.25" fill="#ef6350" />
<rect x="245.07" y="409.07" width="9.45" height="8.25" fill="#ef6350" />
<rect x="234.55" y="418.07" width="9.77" height="8.25" fill="#ef6350" />
<rect x="245.07" y="418.07" width="9.45" height="8.25" fill="#ef6350" />
<rect x="234.55" y="427.07" width="9.77" height="8.25" fill="#ef6350" />
<rect x="245.07" y="427.07" width="9.45" height="8.25" fill="#abe0e3" />
<rect x="234.55" y="436.07" width="9.77" height="8.25" fill="#ef6350" />
<rect x="245.07" y="436.07" width="9.45" height="8.25" fill="#ef6350" />
<rect x="234.55" y="445.07" width="9.77" height="8.25" fill="#ef6350" />
<rect x="245.07" y="445.07" width="9.45" height="8.25" fill="#abe0e3" />
<rect x="234.55" y="454.07" width="9.77" height="8.25" fill="#ef6350" />
<rect x="245.07" y="454.07" width="9.45" height="8.25" fill="#ef6350" />
<rect x="234.55" y="463.07" width="9.77" height="8.25" fill="#ef6350" />
<rect x="245.07" y="463.07" width="9.45" height="8.25" fill="#ef6350" />
<rect x="234.55" y="472.07" width="9.77" height="8.25" fill="#ef6350" />
<rect x="245.07" y="472.07" width="9.45" height="8.25" fill="#ef6350" />
<rect x="234.55" y="481.07" width="9.77" height="8.25" fill="#a08bb5" />
<rect x="245.07" y="481.07" width="9.45" height="8.25" fill="#a08bb5" />
<rect x="255.28" y="481.07" width="9.78" height="8.25" fill="#a08bb5" />
<rect x="234.55" y="490.07" width="9.77" height="8.25" fill="#a08bb5" />
<rect x="245.07" y="490.07" width="9.45" height="8.25" fill="#a08bb5" />
<rect x="234.55" y="499.07" width="9.77" height="8.25" fill="#ef6350" />
<rect x="245.07" y="499.07" width="9.45" height="8.25" fill="#ef6350" />
<rect x="234.55" y="508.07" width="9.77" height="8.93" fill="#ef6350" />
<rect x="245.07" y="508.07" width="9.45" height="8.93" fill="#ef6350" />
<rect x="271.50" y="301.10" width="20.40" height="8.42" fill="#ebebeb" />
<rect x="298.30" y="301.10" width="21.80" height="8.42" fill="#ebebeb" />
<rect x="271.50" y="309.88" width="20.40" height="8.65" fill="#ebebeb" />
<rect x="298.30" y="309.88" width="21.80" height="8.65" fill="#ebebeb" />
<rect x="271.50" y="318.88" width="20.40" height="8.65" fill="#ebebeb" />
<rect x="298.30" y="318.88" width="21.80" height="8.65" fill="#ebebeb" />
<rect x="271.50" y="327.88" width="20.40" height="8.65" fill="#ebebeb" />
<rect x="298.30" y="327.88" width="21.80" height="8.65" fill="#ebebeb" />
<rect x="321.10" y="327.88" width="20.90" height="8.65" fill="#ebebeb" />
<rect x="271.50" y="336.88" width="20.40" height="8.65" fill="#ebebeb" />
<rect x="298.30" y="336.88" width="21.80" height="8.65" fill="#ebebeb" />
<rect x="271.50" y="345.88" width="20.40" height="8.65" fill="#ebebeb" />
<rect x="298.30" y="345.88" width="21.80" height="8.65" fill="#ebebeb" />
<rect x="321.10" y="345.88" width="20.90" height="8.65" fill="#ebebeb" />
<rect x="271.50" y="354.88" width="20.40" height="8.65" fill="#ebebeb" />
<rect x="298.30" y="354.88" width="21.80" height="8.65" fill="#ebebeb" />
<rect x="321.10" y="354.88" width="20.90" height="8.65" fill="#ebebeb" />
<rect x="271.50" y="363.88" width="20.40" height="8.65" fill="#ebebeb" />
<rect x="298.30" y="363.88" width="21.80" height="8.65" fill="#ebebeb" />
<rect x="271.50" y="372.88" width="20.40" height="8.65" fill="#ebebeb" />
<rect x="298.30" y="372.88" width="21.80" height="8.65" fill="#ebebeb" />
<rect x="271.50" y="381.88" width="20.40" height="8.65" fill="#ebebeb" />
<rect x="298.30" y="381.88" width="21.80" height="8.65" fill="#ebebeb" />
<rect x="321.10" y="381.88" width="20.90" height="8.65" fill="#ebebeb" />
<rect x="271.50" y="390.88" width="20.40" height="8.65" fill="#ebebeb" />
<rect x="298.30" y="390.88" width="21.80" height="8.65" fill="#ebebeb" />
<rect x="321.10" y="390.88" width="20.90" height="8.65" fill="#ebebeb" />
<rect x="271.50" y="399.88" width="20.40" height="8.65" fill="#ebebeb" />
<rect x="298.30" y="399.88" width="21.80" height="8.65" fill="#ebebeb" />
<rect x="271.50" y="408.88" width="20.40" height="8.65" fill="#ebebeb" />
<rect x="298.30" y="408.88" width="21.80" height="8.65" fill="#ebebeb" />
<rect x="271.50" y="417.88" width="20.40" height="8.65" fill="#ebebeb" />
<rect x="298.30" y="417.88" width="21.80" height="8.65" fill="#ebebeb" />
<rect x="271.50" y="426.88" width="20.40" height="8.65" fill="#ebebeb" />
<rect x="298.30" y="426.88" width="21.80" height="8.65" fill="#ebebeb" />
<rect x="271.50" y="435.88" width="20.40" height="8.65" fill="#ebebeb" />
<rect x="298.30" y="435.88" width="21.80" height="8.65" fill="#ebebeb" />
<rect x="271.50" y="444.88" width="20.40" height="8.65" fill="#ebebeb" />
<rect x="298.30" y="444.88" width="21.80" height="8.65" fill="#ebebeb" />
<rect x="271.50" y="453.88" width="20.40" height="8.65" fill="#ebebeb" />
<rect x="298.30" y="453.88" width="21.80" height="8.65" fill="#ebebeb" />
<rect x="271.50" y="462.88" width="20.40" height="8.65" fill="#ebebeb" />
<rect x="298.30" y="462.88" width="21.80" height="8.65" fill="#ebebeb" />
<rect x="271.50" y="471.88" width="20.40" height="8.65" fill="#ebebeb" />
<rect x="298.30" y="471.88" width="21.80" height="8.65" fill="#ebebeb" />
<rect x="271.50" y="480.88" width="20.40" height="8.65" fill="#ebebeb" />
<rect x="298.30" y="480.88" width="21.80" height="8.65" fill="#ebebeb" />
<rect x="321.10" y="480.88" width="20.90" height="8.65" fill="#ebebeb" />
<rect x="271.50" y="489.88" width="20.40" height="8.65" fill="#ebebeb" />
<rect x="298.30" y="489.88" width="21.80" height="8.65" fill="#ebebeb" />
<rect x="271.50" y="498.88" width="20.40" height="8.65" fill="#ebebeb" />
<rect x="298.30" y="498.88" width="21.80" height="8.65" fill="#ebebeb" />
<rect x="271.50" y="507.88" width="20.40" height="9.33" fill="#ebebeb" />
<rect x="298.30" y="507.88" width="21.80" height="9.33" fill="#ebebeb" />
<text x="157.40" y="307.15" font-size="5.8" text-anchor="end" fill="#2a2a2a">2</text>
<text x="281.70" y="307.65" font-size="6.0" text-anchor="middle">57</text>
<text x="308.90" y="307.65" font-size="6.0" text-anchor="middle">1.2</text>
<text x="157.40" y="316.15" font-size="5.8" text-anchor="end" fill="#2a2a2a">6</text>
<text x="281.70" y="316.65" font-size="6.0" text-anchor="middle">32</text>
<text x="308.90" y="316.65" font-size="6.0" text-anchor="middle">2.9</text>
<text x="157.40" y="325.15" font-size="5.8" text-anchor="end" fill="#2a2a2a">9</text>
<text x="281.70" y="325.65" font-size="6.0" text-anchor="middle">12</text>
<text x="308.90" y="325.65" font-size="6.0" text-anchor="middle">4.0</text>
<text x="157.40" y="334.15" font-size="5.8" text-anchor="end" fill="#2a2a2a">10</text>
<text x="281.70" y="334.65" font-size="6.0" text-anchor="middle">30</text>
<text x="308.90" y="334.65" font-size="6.0" text-anchor="middle">1.3</text>
<text x="331.60" y="334.65" font-size="6.0" text-anchor="middle">1.0</text>
<text x="157.40" y="343.15" font-size="5.8" text-anchor="end" fill="#2a2a2a">12</text>
<text x="281.70" y="343.65" font-size="6.0" text-anchor="middle">16</text>
<text x="308.90" y="343.65" font-size="6.0" text-anchor="middle">3.0</text>
<text x="157.40" y="352.15" font-size="5.8" text-anchor="end" fill="#2a2a2a">15</text>
<text x="281.70" y="352.65" font-size="6.0" text-anchor="middle">15</text>
<text x="308.90" y="352.65" font-size="6.0" text-anchor="middle">1.2</text>
<text x="331.60" y="352.65" font-size="6.0" text-anchor="middle">2.0</text>
<text x="157.40" y="361.15" font-size="5.8" text-anchor="end" fill="#2a2a2a">18</text>
<text x="281.70" y="361.65" font-size="6.0" text-anchor="middle">21</text>
<text x="308.90" y="361.65" font-size="6.0" text-anchor="middle">0.6</text>
<text x="331.60" y="361.65" font-size="6.0" text-anchor="middle">10.3</text>
<text x="157.40" y="370.15" font-size="5.8" text-anchor="end" fill="#2a2a2a">20</text>
<text x="281.70" y="370.65" font-size="6.0" text-anchor="middle">38</text>
<text x="308.90" y="370.65" font-size="6.0" text-anchor="middle">0.4</text>
<text x="157.40" y="379.15" font-size="5.8" text-anchor="end" fill="#2a2a2a">22</text>
<text x="281.70" y="379.65" font-size="6.0" text-anchor="middle">17</text>
<text x="308.90" y="379.65" font-size="6.0" text-anchor="middle">1.6</text>
<text x="157.40" y="388.15" font-size="5.8" text-anchor="end" fill="#2a2a2a">26</text>
<text x="281.70" y="388.65" font-size="6.0" text-anchor="middle">31</text>
<text x="308.90" y="388.65" font-size="6.0" text-anchor="middle">1.3</text>
<text x="331.60" y="388.65" font-size="6.0" text-anchor="middle">1.9</text>
<text x="157.40" y="397.15" font-size="5.8" text-anchor="end" fill="#2a2a2a">30</text>
<text x="281.70" y="397.65" font-size="6.0" text-anchor="middle">13</text>
<text x="308.90" y="397.65" font-size="6.0" text-anchor="middle">0.9</text>
<text x="331.60" y="397.65" font-size="6.0" text-anchor="middle">1.0</text>
<text x="157.40" y="406.15" font-size="5.8" text-anchor="end" fill="#2a2a2a">31</text>
<text x="281.70" y="406.65" font-size="6.0" text-anchor="middle">21</text>
<text x="308.90" y="406.65" font-size="6.0" text-anchor="middle">0.6</text>
<text x="157.40" y="415.15" font-size="5.8" text-anchor="end" fill="#2a2a2a">32</text>
<text x="281.70" y="415.65" font-size="6.0" text-anchor="middle">39</text>
<text x="308.90" y="415.65" font-size="6.0" text-anchor="middle">0.8</text>
<text x="157.40" y="424.15" font-size="5.8" text-anchor="end" fill="#2a2a2a">36</text>
<text x="281.70" y="424.65" font-size="6.0" text-anchor="middle">37</text>
<text x="308.90" y="424.65" font-size="6.0" text-anchor="middle">0.9</text>
<text x="157.40" y="433.15" font-size="5.8" text-anchor="end" fill="#2a2a2a">38</text>
<text x="281.70" y="433.65" font-size="6.0" text-anchor="middle">31</text>
<text x="308.90" y="433.65" font-size="6.0" text-anchor="middle">1.1</text>
<text x="157.40" y="442.15" font-size="5.8" text-anchor="end" fill="#2a2a2a">39</text>
<text x="281.70" y="442.65" font-size="6.0" text-anchor="middle">37</text>
<text x="308.90" y="442.65" font-size="6.0" text-anchor="middle">1.2</text>
<text x="157.40" y="451.15" font-size="5.8" text-anchor="end" fill="#2a2a2a">40</text>
<text x="281.70" y="451.65" font-size="6.0" text-anchor="middle">25</text>
<text x="308.90" y="451.65" font-size="6.0" text-anchor="middle">2.4</text>
<text x="157.40" y="460.15" font-size="5.8" text-anchor="end" fill="#2a2a2a">42</text>
<text x="281.70" y="460.65" font-size="6.0" text-anchor="middle">14</text>
<text x="308.90" y="460.65" font-size="6.0" text-anchor="middle">0.8</text>
<text x="157.40" y="469.15" font-size="5.8" text-anchor="end" fill="#2a2a2a">44</text>
<text x="281.70" y="469.65" font-size="6.0" text-anchor="middle">11</text>
<text x="308.90" y="469.65" font-size="6.0" text-anchor="middle">1.0</text>
<text x="157.40" y="478.15" font-size="5.8" text-anchor="end" fill="#2a2a2a">46</text>
<text x="281.70" y="478.65" font-size="6.0" text-anchor="middle">17</text>
<text x="308.90" y="478.65" font-size="6.0" text-anchor="middle">1.5</text>
<text x="157.40" y="487.15" font-size="5.8" text-anchor="end" fill="#2a2a2a">50</text>
<text x="281.70" y="487.65" font-size="6.0" text-anchor="middle">24</text>
<text x="308.90" y="487.65" font-size="6.0" text-anchor="middle">0.8</text>
<text x="331.60" y="487.65" font-size="6.0" text-anchor="middle">1</text>
<text x="157.40" y="496.15" font-size="5.8" text-anchor="end" fill="#2a2a2a">51</text>
<text x="281.70" y="496.65" font-size="6.0" text-anchor="middle">53</text>
<text x="308.90" y="496.65" font-size="6.0" text-anchor="middle">1.3</text>
<text x="157.40" y="505.15" font-size="5.8" text-anchor="end" fill="#2a2a2a">53</text>
<text x="281.70" y="505.65" font-size="6.0" text-anchor="middle">54</text>
<text x="308.90" y="505.65" font-size="6.0" text-anchor="middle">1.1</text>
<text x="157.40" y="514.15" font-size="5.8" text-anchor="end" fill="#2a2a2a">56</text>
<text x="281.70" y="514.65" font-size="6.0" text-anchor="middle">15</text>
<text x="308.90" y="514.65" font-size="6.0" text-anchor="middle">2.1</text>
<rect x="160.50" y="291.5" width="31.50" height="226.00" fill="none" stroke="#3a3a3a" stroke-width="1.0"/>
<line x1="160.50" y1="301.00" x2="192.00" y2="301.00" stroke="#3a3a3a" stroke-width="1.4"/>
<line x1="171.00" y1="291.50" x2="171.00" y2="301.00" stroke="#3a3a3a" stroke-width="1.0"/>
<line x1="181.50" y1="291.50" x2="181.50" y2="301.00" stroke="#3a3a3a" stroke-width="1.0"/>
<text x="165.75" y="297.80" font-size="5.8" text-anchor="middle">D</text>
<text x="176.25" y="297.80" font-size="5.8" text-anchor="middle">R1</text>
<text x="186.75" y="297.80" font-size="5.8" text-anchor="middle">R2</text>
<rect x="197.60" y="291.5" width="31.00" height="226.00" fill="none" stroke="#3a3a3a" stroke-width="1.0"/>
<line x1="197.60" y1="301.00" x2="228.60" y2="301.00" stroke="#3a3a3a" stroke-width="1.4"/>
<line x1="207.80" y1="291.50" x2="207.80" y2="301.00" stroke="#3a3a3a" stroke-width="1.0"/>
<line x1="218.40" y1="291.50" x2="218.40" y2="301.00" stroke="#3a3a3a" stroke-width="1.0"/>
<text x="202.70" y="297.80" font-size="5.8" text-anchor="middle">D</text>
<text x="213.10" y="297.80" font-size="5.8" text-anchor="middle">R1</text>
<text x="223.50" y="297.80" font-size="5.8" text-anchor="middle">R2</text>
<rect x="234.00" y="291.5" width="31.60" height="226.00" fill="none" stroke="#3a3a3a" stroke-width="1.0"/>
<line x1="234.00" y1="301.00" x2="265.60" y2="301.00" stroke="#3a3a3a" stroke-width="1.4"/>
<line x1="244.70" y1="291.50" x2="244.70" y2="301.00" stroke="#3a3a3a" stroke-width="1.0"/>
<line x1="254.90" y1="291.50" x2="254.90" y2="301.00" stroke="#3a3a3a" stroke-width="1.0"/>
<text x="239.35" y="297.80" font-size="5.8" text-anchor="middle">D</text>
<text x="249.80" y="297.80" font-size="5.8" text-anchor="middle">R1</text>
<text x="260.25" y="297.80" font-size="5.8" text-anchor="middle">R2</text>
<rect x="271.00" y="291.5" width="21.40" height="226.00" fill="none" stroke="#3a3a3a" stroke-width="1.0"/>
<line x1="271.00" y1="301.00" x2="292.40" y2="301.00" stroke="#3a3a3a" stroke-width="1.4"/>
<text x="281.70" y="297.80" font-size="5.8" text-anchor="middle">D</text>
<rect x="297.80" y="291.5" width="44.70" height="226.00" fill="none" stroke="#3a3a3a" stroke-width="1.0"/>
<line x1="297.80" y1="301.00" x2="342.50" y2="301.00" stroke="#3a3a3a" stroke-width="1.4"/>
<line x1="320.60" y1="291.50" x2="320.60" y2="301.00" stroke="#3a3a3a" stroke-width="1.0"/>
<text x="309.20" y="297.80" font-size="5.8" text-anchor="middle">D-R1</text>
<text x="331.55" y="297.80" font-size="5.8" text-anchor="middle">R1-R2</text>
<text x="349.00" y="341.50" font-size="5.8" textLength="38" lengthAdjust="spacingAndGlyphs">Clonality score</text>
<rect x="349.30" y="346.90" width="3.60" height="3.60" fill="#3f8e4c" />
<text x="356.00" y="350.50" font-size="5.5" textLength="42.6" lengthAdjust="spacingAndGlyphs">Clone - Above CT</text>
<rect x="349.30" y="356.10" width="3.60" height="3.60" fill="#9ccd88" />
<text x="356.00" y="359.70" font-size="5.5" textLength="42.6" lengthAdjust="spacingAndGlyphs">Clone - Below CT</text>
<rect x="349.30" y="365.10" width="3.60" height="3.60" fill="#c8c8c8" />
<text x="356.00" y="368.70" font-size="5.5">No data</text>
<text x="349.00" y="383.70" font-size="5.8" textLength="28" lengthAdjust="spacingAndGlyphs">EBV status</text>
<rect x="349.30" y="389.30" width="3.60" height="3.60" fill="#1a8aa0" />
<text x="356.00" y="392.90" font-size="5.5">EBV Positive</text>
<rect x="349.30" y="398.30" width="3.60" height="3.60" fill="#f5c890" />
<text x="356.00" y="401.90" font-size="5.5">EBV Negative</text>
<rect x="349.30" y="407.20" width="3.60" height="3.60" fill="#c0c0d0" />
<text x="356.00" y="410.80" font-size="5.5">No data</text>
<text x="349.00" y="426.10" font-size="5.8" textLength="33" lengthAdjust="spacingAndGlyphs">cHL subtype</text>
<rect x="349.30" y="431.50" width="3.60" height="3.60" fill="#d8413f" />
<text x="356.00" y="435.10" font-size="5.5">NSHL</text>
<rect x="349.30" y="440.30" width="3.60" height="3.60" fill="#8a7aa0" />
<text x="356.00" y="443.90" font-size="5.5">MCHL</text>
<rect x="349.30" y="449.50" width="3.60" height="3.60" fill="#f0a090" />
<text x="356.00" y="453.10" font-size="5.5">LRHL</text>
<rect x="349.30" y="458.50" width="3.60" height="3.60" fill="#a8dde0" />
<text x="356.00" y="462.10" font-size="5.5">cHL-NOS</text>
<rect x="349.30" y="467.50" width="3.60" height="3.60" fill="#c8c8c8" />
<text x="356.00" y="471.10" font-size="5.5">No data</text>
<rect x="0.6" y="0.6" width="518.8" height="522.8" fill="none" stroke="#626262" stroke-width="1.3"/>
</svg></body></html>
